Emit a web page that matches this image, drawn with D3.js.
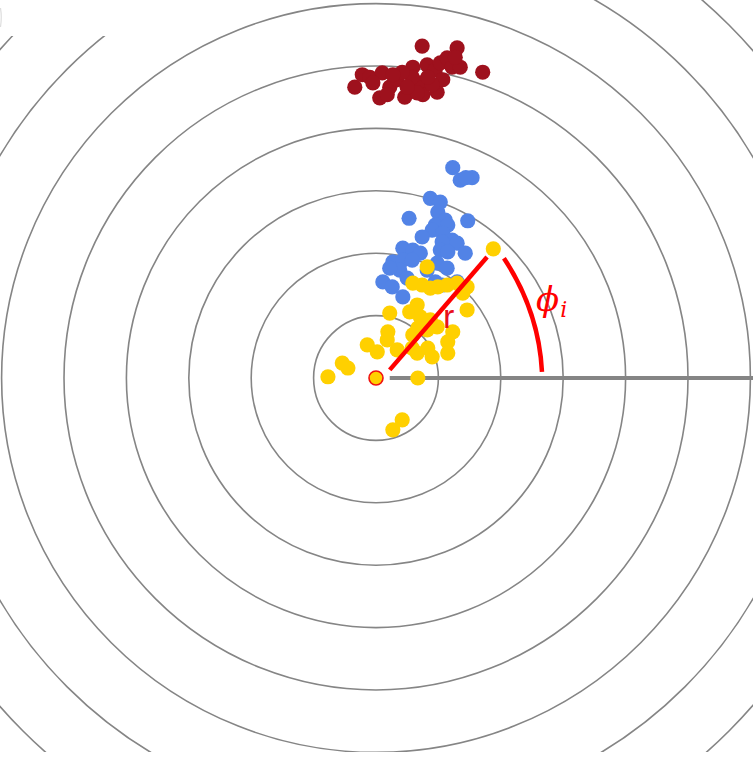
<!DOCTYPE html>
<html>
<head>
<meta charset="utf-8">
<script src="https://cdn.jsdelivr.net/npm/d3@7"></script>
<style>
html,body{margin:0;padding:0;background:#fff;}
svg{display:block;}
</style>
</head>
<body>
<svg id="chart" width="753" height="757"></svg>
<script>
// ring radii (data units)
const rings = [1, 2, 3, 4, 5, 6, 7, 8];

// cluster points [x, y] in data units (ring spacing = 1)
const redPoints = [
  [0.74,5.32],[1.30,5.29],[1.71,4.90],[-0.34,4.66],[-0.22,4.86],[-0.10,4.82],[0.10,4.89],
  [0.06,4.49],[0.22,4.66],[0.34,4.78],[0.46,4.50],[0.59,4.98],[0.71,4.73],[0.75,4.54],
  [0.82,5.02],[0.95,4.94],[0.98,4.58],[1.03,5.05],[1.14,5.13],[1.22,4.98],[1.35,4.98],
  [1.07,4.78],[0.90,4.70],[0.58,4.82],[0.42,4.90],[0.27,4.86],[-0.05,4.73],[0.66,4.57],
  [0.50,4.66],[0.83,4.82],[1.27,5.14],[0.18,4.54]
];
const bluePoints = [
  [1.23,3.37],[1.35,3.17],[1.54,3.21],[1.44,3.21],[0.87,2.88],[1.03,2.82],[0.53,2.56],
  [1.47,2.52],[0.99,2.66],[1.11,2.53],[0.95,2.45],[1.15,2.45],[0.90,2.37],[0.74,2.26],
  [1.07,2.32],[1.22,2.21],[1.30,2.16],[1.06,2.18],[0.43,2.08],[0.59,2.05],[0.71,2.00],
  [1.03,2.05],[1.15,2.02],[1.43,2.00],[0.27,1.86],[0.43,1.89],[0.58,1.89],[0.38,1.73],
  [0.22,1.76],[0.11,1.54],[0.26,1.46],[0.43,1.30],[0.50,1.60],[0.98,1.84],[1.14,1.76],
  [0.95,1.54],[1.06,1.49],[1.30,1.54],[0.82,1.73]
];
const yellowPoints = [
  [0.82,1.78],[0.59,1.52],[0.74,1.49],[0.87,1.44],[0.99,1.46],[1.14,1.49],[1.30,1.52],
  [1.46,1.46],[1.39,1.36],[1.46,1.09],[0.22,1.04],[0.66,1.17],[0.54,1.06],[0.71,0.98],
  [0.87,0.93],[0.67,0.80],[0.82,0.77],[0.98,0.82],[1.23,0.74],[0.19,0.74],[0.59,0.69],
  [-0.14,0.53],[0.02,0.42],[0.18,0.61],[0.34,0.45],[0.58,0.48],[0.66,0.40],[0.83,0.48],
  [0.90,0.34],[1.15,0.58],[1.15,0.40],[-0.54,0.24],[-0.45,0.16],[-0.77,0.02],[0.67,0.00],
  [0.42,-0.67],[0.27,-0.83]
];
const highlightPoint = [1.88, 2.07];
const originPoint = [0, 0];
// r segment: start, end (data units)
const rSegment = [[0.22,0.13],[1.78,1.94]];
// phi arc: start, control, end (data units)
const phiArc = [[2.05,1.92],[2.61,1.07],[2.66,0.10]];

const W = 753, H = 757;
const unit = 62.4, cx = 376, cy = 378;
const x = d3.scaleLinear().domain([0, 1]).range([cx, cx + unit]);
const y = d3.scaleLinear().domain([0, 1]).range([cy, cy - unit]);

const svg = d3.select("#chart");
svg.append("defs").append("clipPath").attr("id","clip")
  .append("rect").attr("x",0).attr("y",0).attr("width",W).attr("height",752);

const g = svg.append("g").attr("clip-path","url(#clip)");

g.selectAll("circle.ring").data(rings).join("circle")
  .attr("class","ring")
  .attr("cx", x(0)).attr("cy", y(0))
  .attr("r", d => x(d) - x(0))
  .attr("fill","none").attr("stroke","#858585").attr("stroke-width",1.6);

// white cover top-left (cropped label area)
g.append("rect").attr("x",0).attr("y",0).attr("width",165).attr("height",36).attr("fill","#fff");
g.append("path").attr("d","M0.5,8 Q2,17 0.5,27").attr("fill","none").attr("stroke","#ddd").attr("stroke-width",1.2);

// horizontal axis
g.append("line")
  .attr("x1", x(0.22)).attr("y1", y(0))
  .attr("x2", x(6.2)).attr("y2", y(0))
  .attr("stroke","#858585").attr("stroke-width",4);

const R = 7.6;
function dots(data, color) {
  g.append("g").selectAll("circle").data(data).join("circle")
    .attr("cx", d => x(d[0])).attr("cy", d => y(d[1]))
    .attr("r", R).attr("fill", color);
}
dots(redPoints, "#9e111d");
dots(bluePoints, "#5283e6");
dots(yellowPoints, "#ffd000");

// r line
g.append("line")
  .attr("x1", x(rSegment[0][0])).attr("y1", y(rSegment[0][1]))
  .attr("x2", x(rSegment[1][0])).attr("y2", y(rSegment[1][1]))
  .attr("stroke","#ff0000").attr("stroke-width",4.5);

// highlighted point
g.append("circle").attr("cx", x(highlightPoint[0])).attr("cy", y(highlightPoint[1]))
  .attr("r", R).attr("fill","#ffd000");

// origin point
g.append("circle").attr("cx", x(originPoint[0])).attr("cy", y(originPoint[1]))
  .attr("r", 7).attr("fill","#ffd000").attr("stroke","#f01010").attr("stroke-width",1.6);

// phi arc
const p = d3.path();
p.moveTo(x(phiArc[0][0]), y(phiArc[0][1]));
p.quadraticCurveTo(x(phiArc[1][0]), y(phiArc[1][1]), x(phiArc[2][0]), y(phiArc[2][1]));
g.append("path").attr("d", p.toString()).attr("fill","none")
  .attr("stroke","#ff0000").attr("stroke-width",4.5);

// labels
g.append("text").attr("x", 443).attr("y", 328)
  .attr("font-family","Liberation Sans, Arial, sans-serif").attr("font-size",34)
  .attr("fill","#e8101a").text("r");
const phiT = g.append("text").attr("x", 536).attr("y", 311)
  .attr("font-family","DejaVu Serif, serif").attr("font-style","italic")
  .attr("font-size",34).attr("fill","#ff0000");
phiT.append("tspan").text("ϕ");
phiT.append("tspan").attr("font-size",22).attr("dy",6).attr("dx",1).text("i");
</script>
</body>
</html>
